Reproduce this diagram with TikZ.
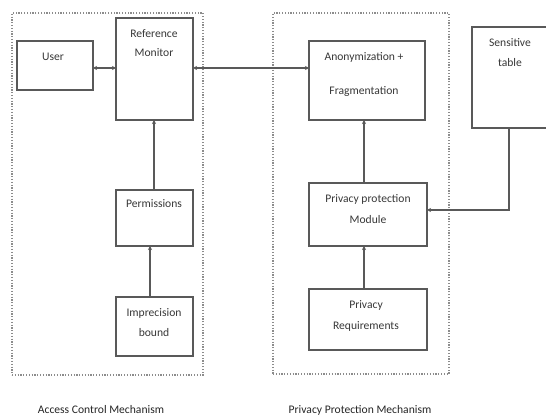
\documentclass[tikz,border=0pt]{standalone}
\usepackage{fontspec}
\setmainfont{Carlito}
\usetikzlibrary{arrows.meta}
\begin{document}
\begin{tikzpicture}[x=1pt,y=-1pt,
  box/.style={draw=black!65, line width=1.1pt, minimum width=#1, inner sep=0pt, outer sep=0pt},
  group/.style={draw=black!45, line width=1.4pt, dash pattern=on 1.2pt off 1.6pt, inner sep=0pt, outer sep=0pt},
  txt/.style={font=\fontsize{11.6}{13}\selectfont, text=black!78, inner sep=0pt},
  captxt/.style={font=\fontsize{11.6}{13}\selectfont, text=black!85, inner sep=0pt},
  conn/.style={draw=black!65, line width=1.1pt, -{Stealth[length=4pt,width=4pt]}},
  conn2/.style={draw=black!65, line width=1.1pt, {Stealth[length=4pt,width=4pt]}-{Stealth[length=4pt,width=4pt]}}]
\path[use as bounding box, fill=white] (0,0) rectangle (546,419);
\begin{scope}
\clip (0,0) rectangle (546,419);
% groups
\node[group, minimum width=191pt, minimum height=362pt] (acm) at (107.5,194) {};
\node[group, minimum width=176pt, minimum height=361pt] (ppmgroup) at (361,193.5) {};
% boxes
\node[box=76pt, minimum height=49pt] (user) at (55,65.5) {};
\node[box=77pt, minimum height=102pt] (rm) at (154.5,69) {};
\node[box=77pt, minimum height=56pt] (perm) at (154.5,218) {};
\node[box=77pt, minimum height=59pt] (imp) at (154.5,326.5) {};
\node[box=116pt, minimum height=79pt] (anon) at (367,80.5) {};
\node[box=100pt, minimum height=101pt] (sens) at (522,77.5) {};
\node[box=118pt, minimum height=63pt] (ppm) at (368,214.5) {};
\node[box=118pt, minimum height=61pt] (preq) at (368,319.5) {};
% texts
\node[txt] (tuser) at (53,57) {User};
\node[txt] (trm1) at (154,34) {Reference};
\node[txt] (trm2) at (154,53) {Monitor};
\node[txt] (tperm) at (154,204) {Permissions};
\node[txt] (timp1) at (154,313) {Imprecision};
\node[txt] (timp2) at (154,333) {bound};
\node[txt] (tanon1) at (364,57) {Anonymization +};
\node[txt] (tanon2) at (364,91) {Fragmentation};
\node[txt] (tsens1) at (510,43) {Sensitive};
\node[txt] (tsens2) at (510,63) {table};
\node[txt] (tppm1) at (368,199) {Privacy protection};
\node[txt] (tppm2) at (368,220) {Module};
\node[txt] (tpreq1) at (366,305) {Privacy};
\node[txt] (tpreq2) at (366,326) {Requirements};
\node[captxt] (lacm) at (101,410) {Access Control Mechanism};
\node[captxt] (lppm) at (360,410) {Privacy Protection Mechanism};
% connectors
\draw[conn2] (user.east |- 0,68) -- (rm.west |- 0,68);
\draw[conn2] (rm.east |- 0,68) -- (anon.west |- 0,68);
\draw[conn] (perm.north -| 154,0) -- (rm.south -| 154,0);
\draw[conn] (imp.north -| 150,0) -- (perm.south -| 150,0);
\draw[conn] (ppm.north -| 364,0) -- (anon.south -| 364,0);
\draw[conn] (preq.north -| 364,0) -- (ppm.south -| 364,0);
\draw[conn] (sens.south -| 509,0) |- (ppm.east |- 0,210);
\end{scope}
\end{tikzpicture}
\end{document}
